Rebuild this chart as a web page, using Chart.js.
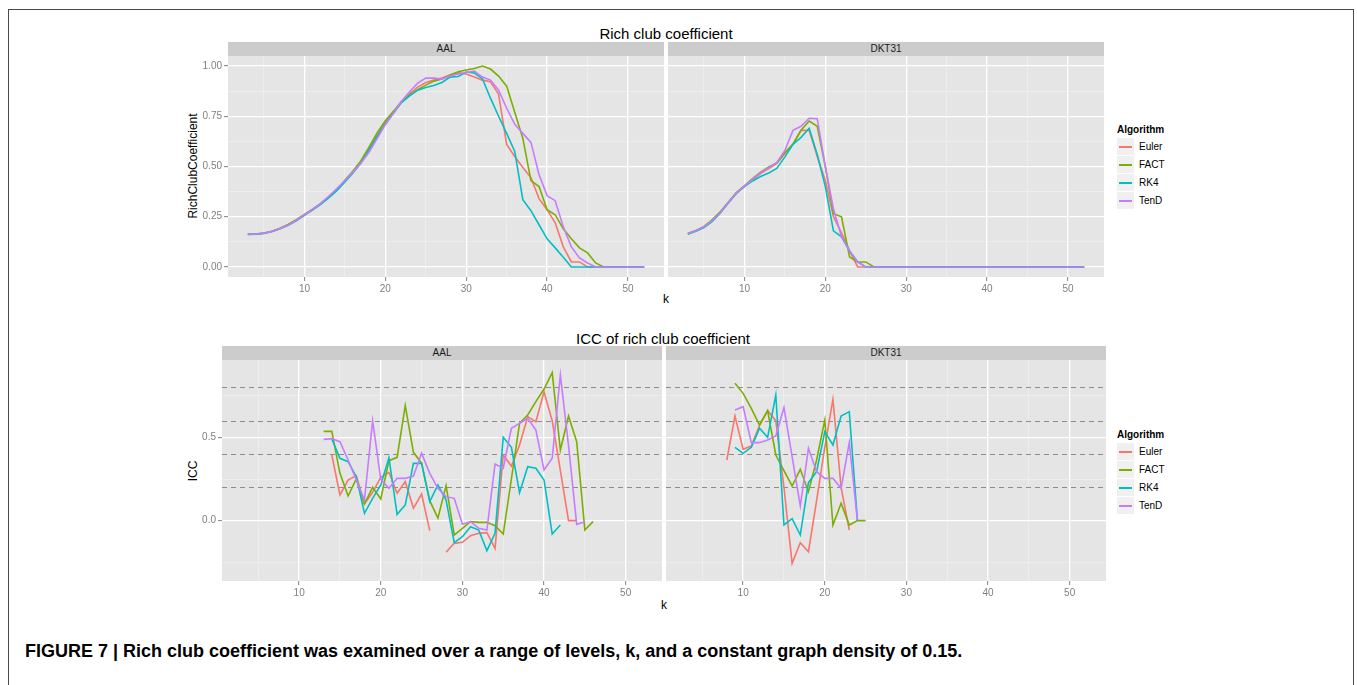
<!DOCTYPE html>
<html>
<head>
<meta charset="utf-8">
<script src="https://cdn.jsdelivr.net/npm/chart.js@4.4.1/dist/chart.umd.min.js"></script>
<style>
  body { margin: 0; background: #fff; font-family: "Liberation Sans", Arial, sans-serif; }
  #page { position: relative; width: 1357px; height: 685px; overflow: hidden; background: #fff; }
  .frame { position: absolute; left: 8px; top: 9px; width: 1344px; height: 720px; border: 1.5px solid #4a4a4a; }
  canvas { position: absolute; }
  .strip { position: absolute; height: 14px; background: #CCCCCC; color: #1a1a1a; font-size: 10px; line-height: 14px; text-align: center; }
  .txt { position: absolute; white-space: nowrap; transform: translate(-50%, -50%); color: #000; }
  .title { font-size: 15px; }
  .axt { font-size: 12px; }
  .lgtitle { position: absolute; font-size: 10px; font-weight: bold; color: #000; line-height: 12px; }
  .lgrow { position: absolute; height: 17px; }
  .lgkey { position: absolute; left: 0; top: 0; width: 17px; height: 17px; background: #F0F0F0; }
  .lgline { position: absolute; left: 2px; top: 8px; width: 13px; height: 1.6px; }
  .lglab { position: absolute; left: 22px; top: 0; font-size: 10px; line-height: 17px; color: #000; }
  .caption { position: absolute; left: 25px; top: 641px; font-size: 18px; line-height: 20px; font-weight: bold; color: #000; white-space: nowrap; }
</style>
</head>
<body>
<div id="page">
  <div class="frame"></div>

  <div class="txt title" style="left:666px; top:33px">Rich club coefficient</div>
  <div class="strip" style="left:228px; top:42px; width:436px">AAL</div>
  <div class="strip" style="left:668px; top:42px; width:436px">DKT31</div>
  <div class="txt axt" style="left:193px; top:166px; transform:translate(-50%,-50%) rotate(-90deg)">RichClubCoefficient</div>
  <div class="txt axt" style="left:666px; top:299px">k</div>
  <canvas id="richAal" width="484" height="243" style="left:180px; top:56px"></canvas>
  <canvas id="richDkt" width="436" height="243" style="left:668px; top:56px"></canvas>

  <div class="txt title" style="left:663px; top:338px">ICC of rich club coefficient</div>
  <div class="strip" style="left:222px; top:346px; width:440px">AAL</div>
  <div class="strip" style="left:666px; top:346px; width:440px">DKT31</div>
  <div class="txt axt" style="left:193px; top:471px; transform:translate(-50%,-50%) rotate(-90deg)">ICC</div>
  <div class="txt axt" style="left:664px; top:605px">k</div>
  <canvas id="iccAal" width="488" height="243" style="left:174px; top:360px"></canvas>
  <canvas id="iccDkt" width="440" height="243" style="left:666px; top:360px"></canvas>

  <div class="caption">FIGURE 7 | Rich club coefficient was examined over a range of levels, k, and a constant graph density of 0.15.</div>
</div>

<script>
const algorithms = ["Euler", "FACT", "RK4", "TenD"];
const algoColors = ["#F8766D", "#7CAE00", "#00BFC4", "#C77CFF"];

// k levels
const kRich = [3, 4, 5, 6, 7, 8, 9, 10, 11, 12, 13, 14, 15, 16, 17, 18, 19, 20, 21, 22, 23, 24, 25, 26, 27,
   28, 29, 30, 31, 32, 33, 34, 35, 36, 37, 38, 39, 40, 41, 42, 43, 44, 45, 46, 47, 48, 49, 50, 51, 52];
const kIccAal = [13, 14, 15, 16, 17, 18, 19, 20, 21, 22, 23, 24, 25, 26, 27, 28, 29, 30, 31, 32, 33, 34, 35,
   36, 37, 38, 39, 40, 41, 42, 43, 44, 45, 46];
const kIccDkt = [8, 9, 10, 11, 12, 13, 14, 15, 16, 17, 18, 19, 20, 21, 22, 23, 24, 25];

// rich club coefficient, AAL
const richAalEuler = [.163, .164, .168, .178, .193, .212, .235, .262, .288, .315, .348, .385, .428, .472, .522,
   .588, .655, .718, .770, .825, .862, .895, .918, .930, .940, .955, .967, .960, .945, .930, .922, .860, .610,
   .550, .495, .445, .340, .285, .220, .100, .025, .025, 0, 0, 0, 0, 0, 0, 0, 0];
const richAalFact = [.162, .164, .169, .178, .193, .212, .234, .260, .286, .314, .348, .386, .432, .478, .530,
   .598, .668, .728, .775, .822, .855, .882, .905, .925, .935, .955, .972, .980, .988, 1.0, .985, .950, .900,
   .770, .640, .430, .400, .285, .260, .190, .140, .095, .070, .020, 0, 0, 0, 0, 0, 0];
const richAalRk4 = [.162, .163, .167, .176, .190, .207, .230, .257, .283, .311, .344, .380, .423, .468, .518,
   .582, .650, .712, .765, .818, .852, .880, .893, .903, .918, .945, .948, .970, .965, .937, .840, .750, .665,
   .575, .335, .280, .210, .140, .095, .048, 0, 0, 0, 0, 0, 0, 0, 0, 0, 0];
const richAalTend = [.163, .164, .168, .177, .191, .209, .232, .259, .286, .316, .352, .390, .430, .472, .518,
   .572, .640, .708, .765, .825, .872, .915, .940, .940, .935, .950, .960, .968, .975, .945, .930, .880, .790,
   .710, .665, .620, .460, .355, .330, .200, .100, .045, .020, 0, 0, 0, 0, 0, 0, 0];

// rich club coefficient, DKT31
const richDktEuler = [.166, .180, .200, .232, .272, .320, .368, .402, .435, .465, .490, .515, .565, .610, .680,
   .680, .550, .430, .250, .170, .080, 0, 0, 0, 0, 0, 0, 0, 0, 0, 0, 0, 0, 0, 0, 0, 0, 0, 0, 0, 0, 0, 0, 0, 0,
   0, 0, 0, 0, 0];
const richDktFact = [.166, .181, .202, .234, .274, .322, .370, .404, .440, .472, .498, .518, .570, .612, .680,
   .726, .700, .500, .265, .250, .050, .025, .025, 0, 0, 0, 0, 0, 0, 0, 0, 0, 0, 0, 0, 0, 0, 0, 0, 0, 0, 0, 0,
   0, 0, 0, 0, 0, 0, 0];
const richDktRk4 = [.163, .178, .196, .226, .268, .318, .366, .400, .428, .450, .468, .490, .548, .610, .645,
   .690, .560, .400, .180, .150, .080, .025, 0, 0, 0, 0, 0, 0, 0, 0, 0, 0, 0, 0, 0, 0, 0, 0, 0, 0, 0, 0, 0, 0,
   0, 0, 0, 0, 0, 0];
const richDktTend = [.165, .180, .200, .230, .270, .320, .368, .402, .436, .468, .494, .520, .580, .680, .700,
   .740, .738, .500, .290, .150, .080, .025, 0, 0, 0, 0, 0, 0, 0, 0, 0, 0, 0, 0, 0, 0, 0, 0, 0, 0, 0, 0, 0, 0,
   0, 0, 0, 0, 0, 0];

// ICC, AAL
const iccAalEuler = [null, .394, .154, .244, .270, .100, .170, .260, .290, .164, .234, .074, .160, -.060, null,
   -.190, -.136, -.130, -.090, -.076, -.072, -.166, .394, .328, .454, .624, .594, .774, .600, .300, 0, 0,
   null, null];
const iccAalFact = [.536, .536, .284, .148, .250, .100, .200, .130, .360, .380, .690, .410, .345, .120, .015,
   .210, -.086, -.046, -.006, -.010, -.010, -.030, -.080, .250, .584, .634, .714, .790, .888, .424, .628,
   .474, -.056, -.006];
const iccAalRk4 = [null, .490, .374, .354, .264, .044, .134, .214, .378, .038, .094, .344, .344, .114, .214,
   .124, -.132, -.096, -.036, -.056, -.180, -.076, .500, .440, .168, .324, .314, .244, -.080, -.026,
   null, null, null, null];
const iccAalTend = [.488, .492, .474, .364, .244, .124, .600, .248, .194, .254, .254, .268, .404, .284, .194,
   .144, .134, -.022, -.006, -.046, -.056, .340, .314, .554, .584, .614, .544, .304, .374, .874, .450,
   -.022, -.006, null];

// ICC, DKT31
const iccDktEuler = [.364, .628, .428, .448, .570, .660, .600, .200, -.256, -.132, -.186, .120, .440, .728,
   .200, -.056, null, null];
const iccDktFact = [null, .824, .764, .674, .574, .660, .394, .300, .208, .308, .174, .364, .604, -.026,
   .104, -.026, 0, 0];
const iccDktRk4 = [null, .440, .404, .440, .554, .500, .754, -.026, .012, -.086, .228, .294, .534, .454,
   .628, .654, 0, null];
const iccDktTend = [null, .664, .684, .468, .468, .484, .508, .678, .384, .088, .434, .294, .254, .254,
   .194, .468, 0, null];

// axis ticks
const xMajor = [10, 20, 30, 40, 50];
const xMinor = [5, 15, 25, 35, 45];
const richMajor = [0, 0.25, 0.5, 0.75, 1];
const richMinor = [0.125, 0.375, 0.625, 0.875];
const iccMajor = [0, 0.5];
const iccMinor = [-0.25, 0.25, 0.75];
const iccRefLevels = [0.2, 0.4, 0.6, 0.8];

const fontFamily = '"Liberation Sans", Arial, sans-serif';

const panelBg = {
   id: "panelBg",
   beforeDraw(chart) {
      const a = chart.chartArea;
      const ctx = chart.ctx;
      ctx.save();
      ctx.fillStyle = "#E5E5E5";
      ctx.fillRect(a.left, a.top, a.right - a.left, a.bottom - a.top);
      ctx.restore();
   },
   beforeDatasetsDraw(chart, args, opts) {
      if (!opts.levels) return;
      const a = chart.chartArea;
      const ctx = chart.ctx;
      const y = chart.scales.y;
      ctx.save();
      ctx.strokeStyle = "#8C8C8C";
      ctx.lineWidth = 1;
      ctx.setLineDash([5, 4]);
      opts.levels.forEach(function (v) {
         const py = Math.round(y.getPixelForValue(v)) + 0.5;
         ctx.beginPath();
         ctx.moveTo(a.left, py);
         ctx.lineTo(a.right, py);
         ctx.stroke();
      });
      ctx.restore();
   },
};

function gridOpts(major, showTicks) {
   const isMajor = (c) => c.tick && major.includes(c.tick.value);
   return {
      color: (c) => (isMajor(c) ? "#FFFFFF" : "#F2F2F2"),
      lineWidth: (c) => (isMajor(c) ? 1.3 : 0.6),
      tickColor: (c) => (isMajor(c) ? "#7F7F7F" : "rgba(0,0,0,0)"),
      drawTicks: showTicks,
      tickLength: 4,
      tickWidth: 1,
   };
}

function xScale() {
   return {
      type: "linear",
      min: 0.55,
      max: 54.45,
      afterBuildTicks: (s) => {
         s.ticks = xMajor.concat(xMinor).sort((a, b) => a - b).map((v) => ({ value: v }));
      },
      afterFit: (s) => {
         s.height = 22;
         s.paddingLeft = 0;
         s.paddingRight = 0;
      },
      grid: gridOpts(xMajor, true),
      border: { display: false },
      ticks: {
         autoSkip: false,
         maxRotation: 0,
         padding: 2,
         color: "#7F7F7F",
         font: { family: fontFamily, size: 10 },
         callback: (v) => (xMajor.includes(v) ? String(v) : ""),
      },
   };
}

function yScale(min, max, major, minor, showLabels, digits) {
   return {
      type: "linear",
      min: min,
      max: max,
      afterBuildTicks: (s) => {
         s.ticks = major.concat(minor).sort((a, b) => a - b).map((v) => ({ value: v }));
      },
      afterFit: (s) => {
         s.width = showLabels ? 48 : 0;
         s.paddingTop = 0;
         s.paddingBottom = 0;
      },
      grid: gridOpts(major, showLabels),
      border: { display: false },
      ticks: {
         display: showLabels,
         autoSkip: false,
         padding: 2,
         color: "#7F7F7F",
         font: { family: fontFamily, size: 10 },
         callback: (v) => (major.includes(v) ? v.toFixed(digits) : ""),
      },
   };
}

function lineSets(kVals, series) {
   return series.map(function (vals, i) {
      return {
         label: algorithms[i],
         data: kVals.map((k, j) => ({ x: k, y: vals[j] })),
         borderColor: algoColors[i],
         borderWidth: 1.6,
         pointRadius: 0,
         tension: 0,
         fill: false,
         spanGaps: false,
         order: series.length - i,
      };
   });
}

function drawPanel(id, kVals, series, yOpts, levels) {
   const ctx = document.getElementById(id).getContext("2d");
   return new Chart(ctx, {
      type: "line",
      plugins: [panelBg],
      data: { datasets: lineSets(kVals, series) },
      options: {
         responsive: false,
         animation: false,
         events: [],
         layout: { padding: 0 },
         plugins: {
            legend: { display: false },
            tooltip: { enabled: false },
            panelBg: { levels: levels },
         },
         scales: { x: xScale(), y: yOpts },
      },
   });
}

drawPanel("richAal", kRich, [richAalEuler, richAalFact, richAalRk4, richAalTend],
   yScale(-0.05, 1.05, richMajor, richMinor, true, 2), null);
drawPanel("richDkt", kRich, [richDktEuler, richDktFact, richDktRk4, richDktTend],
   yScale(-0.05, 1.05, richMajor, richMinor, false, 2), null);
drawPanel("iccAal", kIccAal, [iccAalEuler, iccAalFact, iccAalRk4, iccAalTend],
   yScale(-0.362, 0.964, iccMajor, iccMinor, true, 1), iccRefLevels);
drawPanel("iccDkt", kIccDkt, [iccDktEuler, iccDktFact, iccDktRk4, iccDktTend],
   yScale(-0.362, 0.964, iccMajor, iccMinor, false, 1), iccRefLevels);

// legends
function drawLegend(left, top) {
   const page = document.getElementById("page");
   const t = document.createElement("div");
   t.className = "lgtitle";
   t.style.left = left + "px";
   t.style.top = top + "px";
   t.textContent = "Algorithm";
   page.appendChild(t);
   algorithms.forEach(function (name, i) {
      const row = document.createElement("div");
      row.className = "lgrow";
      row.style.left = left + "px";
      row.style.top = top + 14 + i * 18 + "px";
      row.innerHTML = '<div class="lgkey"><div class="lgline" style="background:' + algoColors[i] +
         '"></div></div><div class="lglab">' + name + "</div>";
      page.appendChild(row);
   });
}
drawLegend(1117, 124);
drawLegend(1117, 429);
</script>
</body>
</html>
